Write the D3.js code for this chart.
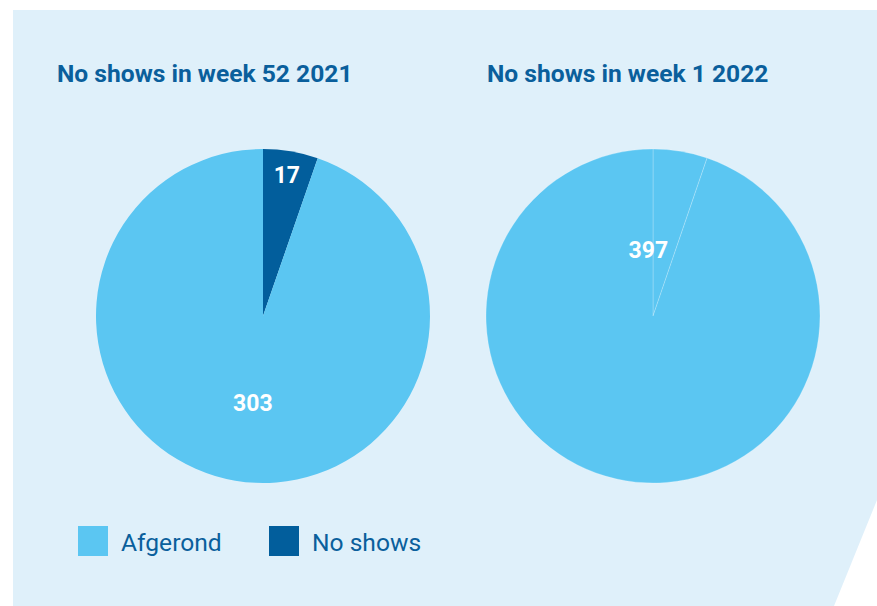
<!DOCTYPE html>
<html>
<head>
<meta charset="utf-8">
<script src="https://cdn.jsdelivr.net/npm/d3@7"></script>
<style>
  body { margin: 0; background: #fff; }
  text { font-family: Roboto, "Open Sans", sans-serif; }
</style>
</head>
<body>
<div class="chart"></div>
<script>
const width = 877
const height = 606

const categories = ["Afgerond", "No shows"]
const titles = ["No shows in week 52 2021", "No shows in week 1 2022"]
const week52 = [303, 17]
const week1 = [397, 22]

const lightBlue = "#5bc6f2"
const darkBlue = "#025e9c"
const textBlue = "#0a5f9c"

const svg = d3.select(".chart")
    .append("svg")
    .attr("width", width)
    .attr("height", height)

// background panel with cut corner
svg.append("path")
    .attr("d", "M13,10 L877,10 L877,500 L834,606 L13,606 Z")
    .attr("fill", "#dff0fa")

const radius = 167
const pie = d3.pie().sort(null).value(d => d.value)
const arc = d3.arc().innerRadius(0).outerRadius(radius)

const charts = [
    {title: titles[0], values: week52, cx: 263, tx: 57, colors: [lightBlue, darkBlue], labels: [true, true]},
    {title: titles[1], values: week1, cx: 653, tx: 487, colors: [lightBlue, lightBlue], labels: [true, false]}
]

charts.forEach((c, ci) => {
    const data = categories.map((k, i) => ({key: k, value: c.values[i]}))
    // small slice first so it starts at 12 o'clock
    const arcs = pie([data[1], data[0]])

    svg.append("text")
        .attr("x", c.tx)
        .attr("y", 82)
        .text(c.title)
        .style("fill", textBlue)
        .style("font-weight", "700")
        .style("font-size", "24.6px")

    const g = svg.append("g")
        .attr("transform", `translate(${c.cx}, 316)`)

    g.selectAll("path")
        .data(arcs)
        .enter().append("path")
            .attr("d", arc)
            .attr("fill", d => c.colors[categories.indexOf(d.data.key)])
            .attr("stroke", ci === 1 ? "rgba(255,255,255,0.22)" : "none")
            .attr("stroke-width", 1)

    g.selectAll("text")
        .data(arcs.filter(d => c.labels[categories.indexOf(d.data.key)]))
        .enter().append("text")
            .attr("transform", d => {
                let r = d.data.key === "No shows" ? radius * 0.86 : radius * 0.52
                let a = (d.startAngle + d.endAngle) / 2 - (d.data.key === "Afgerond" ? 0.05 : 0)
                if (ci === 1) { a = -0.07; r = radius * 0.4 }
                const p = d3.pointRadial(a, r)
                return `translate(${p[0]}, ${p[1]})`
            })
            .attr("text-anchor", "middle")
            .attr("dy", "0.36em")
            .text(d => d.value)
            .style("fill", "white")
            .style("font-weight", "700")
            .style("font-size", "23px")
})

// legend
const legend = svg.append("g")
    .attr("transform", "translate(78, 526)")

const legendX = d3.scaleOrdinal().domain(categories).range([0, 191])

const item = legend.selectAll("g")
    .data(categories)
    .enter().append("g")
        .attr("transform", d => `translate(${legendX(d)}, 0)`)

item.append("rect")
    .attr("width", 30)
    .attr("height", 30)
    .attr("fill", (d, i) => i === 0 ? lightBlue : darkBlue)

item.append("text")
    .attr("x", 43)
    .attr("y", 25)
    .text(d => d)
    .style("fill", textBlue)
    .style("font-size", "24.6px")
</script>
</body>
</html>
